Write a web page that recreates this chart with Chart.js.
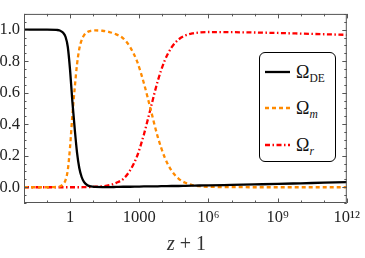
<!DOCTYPE html>
<html><head><meta charset="utf-8">
<script src="https://cdn.jsdelivr.net/npm/chart.js@4/dist/chart.umd.min.js"></script>
<style>
html,body{margin:0;padding:0;background:#fff;}
#wrap{position:relative;width:365px;height:258px;overflow:hidden;}
canvas{display:block;}
#xt{position:absolute;left:0;width:373px;top:233px;text-align:center;font:20px "Liberation Serif";color:#333;line-height:20px;}
#leg{position:absolute;left:259px;top:52px;width:77px;height:110px;border:1.3px solid #000;border-radius:6px;box-sizing:border-box;background:#fff;}
.row{position:absolute;left:0;width:77px;height:20px;}
.row svg{position:absolute;left:5px;top:8px;}
.lab{position:absolute;left:36px;top:0;font:18px "Liberation Serif";color:#111;line-height:20px;white-space:nowrap;}
.lab sub{font-size:11.5px;vertical-align:-4px;line-height:0;}
</style>
</head><body>
<div id="wrap">
<canvas id="c" width="365" height="258"></canvas>
<div id="xt"><i>z</i> + 1</div>
<div id="leg">
 <div class="row" style="top:9px"><svg width="25" height="4"><line x1="0" y1="2" x2="25" y2="2" stroke="#000" stroke-width="2.3"/></svg><span class="lab">Ω<sub>DE</sub></span></div>
 <div class="row" style="top:45px"><svg width="25" height="4"><line x1="0" y1="2" x2="25" y2="2" stroke="#ff8a00" stroke-width="2.3" stroke-dasharray="4 3"/></svg><span class="lab">Ω<sub><i>m</i></sub></span></div>
 <div class="row" style="top:82px"><svg width="25" height="4"><line x1="0" y1="2" x2="25" y2="2" stroke="#ff0000" stroke-width="2.3" stroke-dasharray="5 2.5 1.5 2.5"/></svg><span class="lab">Ω<sub><i>r</i></sub></span></div>
</div>
</div>
<script>
// log10(z+1) sample positions
const log10zp1 = [-2, -1, -0.6, -0.45, -0.3, -0.2, -0.1, 0, 0.1, 0.2, 0.3, 0.4, 0.5, 0.6, 0.75, 0.9, 1.1, 1.4, 1.7, 2, 2.3, 2.6, 2.9, 3.2, 3.5, 3.8, 4.1, 4.4, 4.7, 5, 5.3, 5.6, 6, 7, 8, 9, 10, 11, 12];
const omegaDE = [1, 1, 0.998, 0.995, 0.98, 0.955, 0.89, 0.74, 0.54, 0.37, 0.22, 0.12, 0.065, 0.034, 0.013, 0.005, 0.002, 0.001, 0.001, 0.002, 0.003, 0.003, 0.004, 0.005, 0.005, 0.006, 0.007, 0.008, 0.008, 0.009, 0.010, 0.011, 0.012, 0.015, 0.018, 0.021, 0.025, 0.029, 0.033];
const omegaM  = [0, 0, 0.002, 0.005, 0.02, 0.045, 0.11, 0.26, 0.46, 0.63, 0.78, 0.88, 0.933, 0.964, 0.985, 0.993, 0.995, 0.993, 0.985, 0.97, 0.945, 0.89, 0.80, 0.66, 0.49, 0.32, 0.19, 0.105, 0.055, 0.028, 0.014, 0.007, 0.003, 0.001, 0, 0, 0, 0, 0];
const omegaR  = [0, 0, 0, 0, 0, 0, 0, 0, 0, 0, 0, 0, 0, 0.001, 0.001, 0.002, 0.003, 0.006, 0.013, 0.028, 0.052, 0.107, 0.196, 0.335, 0.505, 0.674, 0.803, 0.887, 0.937, 0.963, 0.976, 0.982, 0.985, 0.984, 0.982, 0.979, 0.975, 0.971, 0.967];
const xTickExps = [-2,-1,0,1,2,3,4,5,6,7,8,9,10,11,12];
const xTickLabels = {0:'1', 3:'1000', 6:'10⁶', 9:'10⁹', 12:'10¹²'};
const yTickValues = [0, 0.2, 0.4, 0.6, 0.8, 1.0];

const pts = arr => arr.map((v,i)=>({x: Math.pow(10, log10zp1[i]), y: v}));

Chart.defaults.font.family = '"Liberation Serif", serif';
Chart.defaults.font.size = 16.5;
Chart.defaults.color = '#222';

const frame = {
  id:'frame',
  afterDraw(chart){
    const {ctx, chartArea:a, scales:{x, y}} = chart;
    ctx.save();
    ctx.strokeStyle = '#555';
    ctx.lineWidth = 1;
    ctx.strokeRect(a.left+0.5, a.top+0.5, a.right-a.left-1, a.bottom-a.top-1);
    ctx.beginPath();
    xTickExps.forEach(k=>{
      const px = Math.round(x.getPixelForValue(Math.pow(10,k)))+0.5;
      const len = (k%3===0)?4.5:2.5;
      ctx.moveTo(px, a.bottom); ctx.lineTo(px, a.bottom-len);
      ctx.moveTo(px, a.top); ctx.lineTo(px, a.top+len);
    });
    for(let i=-2;i<=22;i++){
      const v=i*0.05;
      const py = Math.round(y.getPixelForValue(v))+0.5;
      const len = (i%4===0)?4.5:2.5;
      ctx.moveTo(a.left, py); ctx.lineTo(a.left+len, py);
      ctx.moveTo(a.right, py); ctx.lineTo(a.right-len, py);
    }
    ctx.stroke();
    ctx.restore();
  }
};

new Chart(document.getElementById('c'), {
  type:'line',
  data:{datasets:[
    {label:'ΩDE', data:pts(omegaDE), borderColor:'#000', borderWidth:2.3, pointRadius:0, cubicInterpolationMode:'monotone', fill:false},
    {label:'Ωm', data:pts(omegaM), borderColor:'#ff8a00', borderWidth:2.3, borderDash:[4,3], pointRadius:0, cubicInterpolationMode:'monotone', fill:false},
    {label:'Ωr', data:pts(omegaR), borderColor:'#ff0000', borderWidth:2.3, borderDash:[5,2.5,1.5,2.5], pointRadius:0, cubicInterpolationMode:'monotone', fill:false}
  ]},
  options:{
    responsive:false, animation:false,
    layout:{padding:{top:3, right:16, left:0, bottom:0}},
    plugins:{legend:{display:false}, tooltip:{enabled:false}},
    scales:{
      x:{type:'logarithmic', min:0.01, max:1e12,
        grid:{display:false, drawTicks:false}, border:{display:false},
        afterBuildTicks(s){ s.ticks = xTickExps.map(k=>({value:Math.pow(10,k)})); },
        afterFit(s){ s.height = 55; },
        ticks:{autoSkip:false, maxRotation:0, padding:5,
          callback(v){ const k=Math.round(Math.log10(v)); return xTickLabels[k]||''; }}
      },
      y:{min:-0.1, max:1.1,
        grid:{display:false, drawTicks:false}, border:{display:false},
        afterBuildTicks(s){ s.ticks = yTickValues.map(v=>({value:v})); },
        afterFit(s){ s.width = 24; },
        ticks:{padding:4, callback(v){ return Number(v).toFixed(1); }}
      }
    }
  },
  plugins:[frame]
});
</script>
</body></html>
